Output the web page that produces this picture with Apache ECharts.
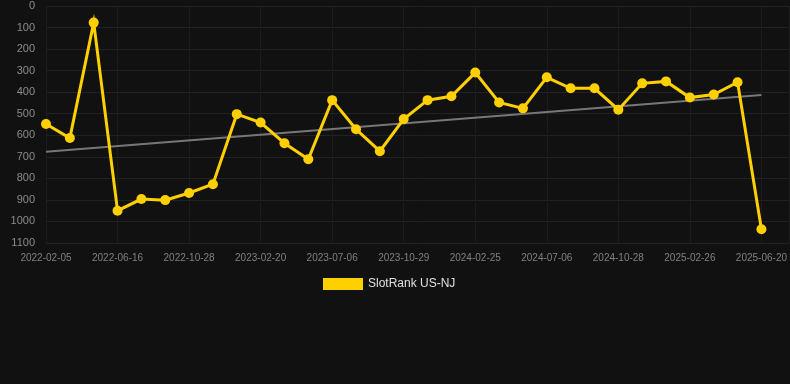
<!DOCTYPE html>
<html>
<head>
<meta charset="utf-8">
<script src="https://cdn.jsdelivr.net/npm/echarts@6/dist/echarts.min.js"></script>
<style>
    html, body { margin: 0; padding: 0; background: #111111; }
    #chart1 { width: 790px; height: 384px; }
</style>
</head>
<body>
<div id="chart1"></div>
<script>
// tick labels shown under every 3rd point
var tickLabels = ['2022-02-05', '2022-06-16', '2022-10-28', '2023-02-20', '2023-07-06', '2023-10-29',
    '2024-02-25', '2024-07-06', '2024-10-28', '2025-02-26', '2025-06-20'];
// rank values, one per point
var rankValues = [548, 613, 77, 950, 896, 901, 868, 827, 502, 541,
    637, 711, 437, 572, 674, 525, 437, 419, 309, 448,
    475, 331, 382, 382, 481, 359, 350, 425, 411, 354, 1036];
// trend line ends (first and last point)
var trendValues = [676, 413];

drawChart1();

function drawChart1() {
    var dom1 = document.getElementById("chart1");
    var myChart1 = echarts.init(dom1);
    var last = rankValues.length - 1;
    var lineData = rankValues.map(function (v, i) { return [i, v]; });
    var trendData = [[0, trendValues[0]], [last, trendValues[1]]];
    var option = {
        backgroundColor: '#111111',
        animation: false,
        grid: {
            left: 46,
            right: 0,
            top: 6,
            bottom: 141
        },
        legend: {
            top: 273,
            left: 318,
            itemWidth: 40,
            itemHeight: 12,
            icon: 'rect',
            itemGap: 10,
            textStyle: {
                color: '#e0e0e0',
                fontSize: 12,
                fontFamily: 'Liberation Sans, Arial, sans-serif'
            },
            data: ['SlotRank US-NJ']
        },
        xAxis: {
            type: 'value',
            min: 0,
            max: last + 28 / 23.87,
            interval: 3,
            axisLine: { show: false },
            axisTick: { show: false },
            axisLabel: {
                color: '#808080',
                fontSize: 10,
                fontFamily: 'Liberation Sans, Arial, sans-serif',
                margin: 10,
                showMaxLabel: false,
                formatter: function (v) {
                    if (v % 3 !== 0) return '';
                    return tickLabels[v / 3] || '';
                }
            },
            splitLine: {
                show: true,
                lineStyle: { color: '#1c1c1c', width: 1 }
            }
        },
        yAxis: {
            type: 'value',
            inverse: true,
            min: 0,
            max: 1100,
            interval: 100,
            axisLine: { show: false },
            axisTick: { show: false },
            axisLabel: {
                color: '#8c8c8c',
                fontSize: 11,
                fontFamily: 'Liberation Sans, Arial, sans-serif',
                margin: 11,
                formatter: function (v) { return String(v); }
            },
            splitLine: {
                show: true,
                lineStyle: { color: '#222222', width: 1 }
            }
        },
        series: [
            {
                name: 'trend',
                type: 'line',
                data: trendData,
                symbol: 'none',
                silent: true,
                lineStyle: { color: '#777777', width: 2 },
                z: 1
            },
            {
                name: 'SlotRank US-NJ',
                type: 'line',
                data: lineData,
                symbol: 'circle',
                symbolSize: 10,
                itemStyle: { color: '#ffd000' },
                lineStyle: { color: '#ffd000', width: 3, join: 'miter', miterLimit: 10 },
                z: 2
            }
        ]
    };
    myChart1.setOption(option, true);
    window.onresize = myChart1.resize;
}
</script>
</body>
</html>
